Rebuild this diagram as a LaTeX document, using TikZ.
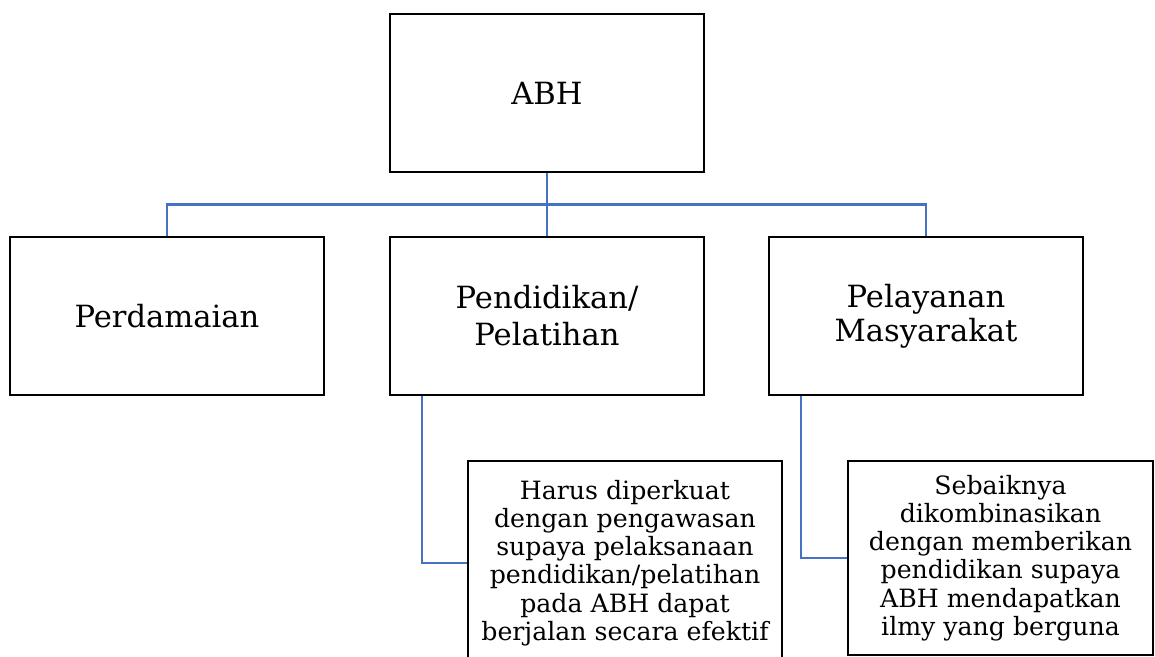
\documentclass[tikz,border=0pt]{standalone}
\usepackage{fontspec}
\setmainfont{DejaVu Serif}
\usepackage{xcolor}
\usetikzlibrary{positioning,calc}
\definecolor{linkblue}{HTML}{4472C4}

\begin{document}
\begin{tikzpicture}[
    node distance=31.5pt and 32pt,
    box/.style={draw, line width=1pt, minimum width=157pt, minimum height=79pt, align=center, font=\fontsize{15.3}{17}\selectfont},
    nbox/.style={draw, line width=1pt, align=center, font=\fontsize{12.6}{14.1}\selectfont},
    link/.style={draw=linkblue, line width=1.2pt}
]
\useasboundingbox (0,0) rectangle (577.5pt,-328.5pt);
\node[box] (abh) at (273.5pt,-46.5pt) {ABH};
\node[box, below=of abh] (didik) {Pendidikan/\\[1.5pt]Pelatihan};
\node[box, left=of didik] (damai) {Perdamaian};
\node[box, right=31.5pt of didik] (layan) {Pelayanan\\Masyarakat};
\node[nbox, minimum width=157pt, minimum height=102pt, below right=32pt and 39pt of didik.south west] (awas) {Harus diperkuat\\dengan pengawasan\\supaya pelaksanaan\\pendidikan/pelatihan\\pada ABH dapat\\berjalan secara efektif};
\node[nbox, minimum width=152.5pt, minimum height=97pt, below right=32pt and 39.5pt of layan.south west] (kombi) {Sebaiknya\\dikombinasikan\\dengan memberikan\\pendidikan supaya\\ABH mendapatkan\\ilmy yang berguna};

\coordinate (hub) at ($(abh.south)!0.5!(didik.north)$);
\draw[link] (abh.south) -- (didik.north);
\draw[link] (damai.north) |- (hub) -| (layan.north);
\draw[link] ($(didik.south west)+(16.5pt,0)$) |- (awas.west);
\draw[link] ($(layan.south west)+(16.5pt,0)$) |- (kombi.west);
\end{tikzpicture}
\end{document}
